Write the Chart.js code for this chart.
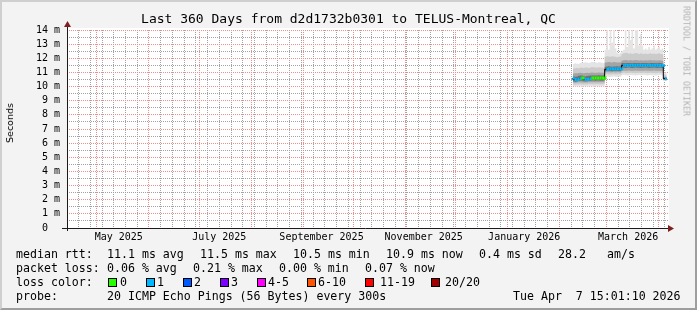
<!DOCTYPE html>
<html>
<head>
<meta charset="utf-8">
<script src="https://cdn.jsdelivr.net/npm/chart.js@4.4.1/dist/chart.umd.min.js"></script>
<style>
  html, body { margin: 0; padding: 0; background: #f3f3f3; }
  #frame { position: relative; width: 697px; height: 310px; background: #f3f3f3; overflow: hidden;
           font-family: 'DejaVu Sans Mono', monospace; color: #000; }
  #frame::after { content: ''; position: absolute; left: 0; top: 0; right: 0; bottom: 0; pointer-events: none;
                  border-style: solid; border-width: 2px; border-color: #cfcfcf #9e9e9e #9e9e9e #cfcfcf; }
  canvas { position: absolute; left: 0; top: 0; }
  .t { position: absolute; white-space: pre; font-size: 11.6px; line-height: 14px; }
  .box { position: absolute; width: 9px; height: 9px; box-sizing: border-box; border: 1px solid #000; }
  #title { position: absolute; left: 0; top: 11px; width: 697px; text-align: center; font-size: 13px; line-height: 15px; white-space: pre; }
  #ylab { position: absolute; left: 10px; top: 123px; font-family: 'DejaVu Sans', sans-serif; font-size: 9.5px; line-height: 10px;
          transform: translate(-50%, -50%) rotate(-90deg); white-space: pre; }
  #mark { position: absolute; left: 686px; top: 61px; font-size: 8.3px; line-height: 9px; color: #b4b4b4;
          transform: translate(-50%, -50%) rotate(90deg); white-space: pre; }
</style>
</head>
<body>
<div id="frame">
  <canvas id="chart" width="697" height="310"></canvas>
  <div id="title">Last 360 Days from d2d1732b0301 to TELUS-Montreal, QC</div>
  <div id="ylab">Seconds</div>
  <div id="mark">RRDTOOL / TOBI OETIKER</div>

  <div class="t" style="left:16px;top:247px">median rtt:</div>
  <div class="t" style="left:107px;top:247px">11.1 ms avg</div>
  <div class="t" style="left:200px;top:247px">11.5 ms max</div>
  <div class="t" style="left:293px;top:247px">10.5 ms min</div>
  <div class="t" style="left:386px;top:247px">10.9 ms now</div>
  <div class="t" style="left:479px;top:247px">0.4 ms sd</div>
  <div class="t" style="left:558px;top:247px">28.2</div>
  <div class="t" style="left:607px;top:247px">am/s</div>

  <div class="t" style="left:16px;top:261px">packet loss:</div>
  <div class="t" style="left:107px;top:261px">0.06 % avg</div>
  <div class="t" style="left:193px;top:261px">0.21 % max</div>
  <div class="t" style="left:279px;top:261px">0.00 % min</div>
  <div class="t" style="left:365px;top:261px">0.07 % now</div>

  <div class="t" style="left:16px;top:275px">loss color:</div>
  <div class="box" style="left:108px;top:278px;background:#26ff00"></div><div class="t" style="left:120px;top:275px">0</div>
  <div class="box" style="left:146px;top:278px;background:#00b8ff"></div><div class="t" style="left:157px;top:275px">1</div>
  <div class="box" style="left:183px;top:278px;background:#0059ff"></div><div class="t" style="left:194px;top:275px">2</div>
  <div class="box" style="left:220px;top:278px;background:#7e00ff"></div><div class="t" style="left:231px;top:275px">3</div>
  <div class="box" style="left:257px;top:278px;background:#ff00ff"></div><div class="t" style="left:268px;top:275px">4-5</div>
  <div class="box" style="left:307px;top:278px;background:#ff5500"></div><div class="t" style="left:318px;top:275px">6-10</div>
  <div class="box" style="left:365px;top:278px;background:#ff0000"></div><div class="t" style="left:380px;top:275px">11-19</div>
  <div class="box" style="left:431px;top:278px;background:#a10000"></div><div class="t" style="left:445px;top:275px">20/20</div>

  <div class="t" style="left:16px;top:289px">probe:</div>
  <div class="t" style="left:107px;top:289px">20 ICMP Echo Pings (56 Bytes) every 300s</div>
  <div class="t" style="left:513px;top:289px">Tue Apr  7 15:01:10 2026</div>
</div>
<script>
// x values are days counted from 2025-05-01 (local midnight)
const xMin = -17.9;
const xMax = 340.8;
const monthStartDays = [0, 31, 61, 92, 123, 153, 184, 214, 245, 276, 304, 335];
const monthLabels = ['May 2025', 'July 2025', 'September 2025', 'November 2025', 'January 2026', 'March 2026'];
const monthLabelDays = [13, 73, 134, 195, 255, 317];
const firstSunday = -11;

const yTickLabels = ['0  ', '1 m', '2 m', '3 m', '4 m', '5 m', '6 m', '7 m', '8 m', '9 m', '10 m', '11 m', '12 m', '13 m', '14 m'];

// one value per day, first day = 2026-02-09
const seriesStartDay = 284;
const median = [
  10.60, 10.50, 10.48, 10.50, 10.56, 10.60, 10.60, 10.52, 10.50, 10.52, 10.55, 10.60, 10.60, 10.61, 10.60, 10.60, 10.61, 10.60, 10.60, 10.61,
  11.22, 11.25, 11.26, 11.25, 11.24, 11.25, 11.25, 11.26, 11.25, 11.25,
  11.50, 11.50, 11.49, 11.50, 11.51, 11.50, 11.49, 11.50, 11.51, 11.50, 11.50, 11.49, 11.50, 11.50, 11.51, 11.50, 11.49, 11.50, 11.50, 11.51, 11.50, 11.49, 11.50, 11.50, 11.48,
  10.55
];
const lossCount = [
  1, 1, 1, 1, 1, 0, 0, 1, 1, 1, 1, 0, 0, 0, 0, 0, 0, 0, 0, 0,
  1, 1, 1, 1, 1, 1, 1, 1, 1, 1,
  1, 1, 1, 1, 1, 1, 1, 1, 1, 1, 1, 1, 1, 1, 1, 1, 1, 1, 1, 1, 1, 1, 1, 1, 1,
  1
];
const smokeOuterLo = [
  10.04, 10.02, 10.00, 10.00, 10.02, 10.00, 9.98, 10.00, 10.02, 10.00, 10.00, 10.02, 10.00, 9.98, 10.00, 10.02, 10.00, 10.00, 10.02, 10.00,
  10.70, 10.72, 10.70, 10.68, 10.70, 10.72, 10.70, 10.70, 10.72, 10.70,
  10.80, 10.82, 10.80, 10.78, 10.80, 10.82, 10.80, 10.80, 10.78, 10.80, 10.82, 10.80, 10.80, 10.82, 10.80, 10.78, 10.80, 10.82, 10.80, 10.80, 10.78, 10.80, 10.82, 10.80, 10.80,
  10.40
];
const smokeOuterHi = [
  11.62, 11.60, 11.65, 11.62, 11.60, 11.66, 11.70, 11.68, 11.72, 11.70, 11.66, 11.70, 11.75, 11.72, 11.70, 11.68, 11.72, 11.70, 11.68, 11.65,
  12.60, 14.00, 12.60, 14.00, 13.10, 14.00, 12.70, 12.40, 12.30, 12.40,
  12.50, 12.60, 14.00, 12.80, 14.00, 13.30, 14.00, 12.70, 14.00, 14.00, 12.90, 13.70, 12.90, 12.60, 12.70, 12.60, 12.80, 12.60, 12.70, 12.90, 12.60, 12.70, 12.80, 12.60, 12.70,
  11.00
];
const smokeWideLo = [
  10.16, 10.14, 10.12, 10.14, 10.15, 10.16, 10.14, 10.12, 10.14, 10.15, 10.16, 10.17, 10.16, 10.15, 10.16, 10.17, 10.16, 10.15, 10.16, 10.17,
  10.86, 10.88, 10.86, 10.85, 10.86, 10.88, 10.86, 10.86, 10.87, 10.86,
  10.96, 10.97, 10.96, 10.95, 10.96, 10.97, 10.96, 10.96, 10.95, 10.96, 10.97, 10.96, 10.96, 10.97, 10.96, 10.95, 10.96, 10.97, 10.96, 10.96, 10.95, 10.96, 10.97, 10.96, 10.96,
  10.45
];
const smokeWideHi = [
  11.30, 11.28, 11.30, 11.32, 11.30, 11.33, 11.35, 11.32, 11.35, 11.34, 11.32, 11.35, 11.38, 11.36, 11.35, 11.34, 11.36, 11.35, 11.34, 11.32,
  12.10, 12.15, 12.12, 12.10, 12.14, 12.12, 12.10, 12.08, 12.10, 12.12,
  12.30, 12.35, 12.40, 12.38, 12.32, 12.36, 12.30, 12.34, 12.38, 12.35, 12.30, 12.36, 12.32, 12.30, 12.34, 12.30, 12.32, 12.35, 12.30, 12.33, 12.30, 12.32, 12.35, 12.30, 12.28,
  10.85
];
const smokeMidLo = [
  10.30, 10.28, 10.27, 10.28, 10.30, 10.30, 10.29, 10.28, 10.28, 10.29, 10.30, 10.31, 10.30, 10.30, 10.31, 10.30, 10.31, 10.30, 10.30, 10.31,
  11.00, 11.02, 11.01, 11.00, 11.01, 11.02, 11.00, 11.01, 11.02, 11.00,
  11.12, 11.12, 11.11, 11.12, 11.13, 11.12, 11.11, 11.12, 11.13, 11.12, 11.12, 11.11, 11.12, 11.12, 11.13, 11.12, 11.11, 11.12, 11.12, 11.13, 11.12, 11.11, 11.12, 11.12, 11.10,
  10.50
];
const smokeMidHi = [
  10.95, 10.92, 10.94, 10.95, 10.96, 10.97, 10.96, 10.95, 10.96, 10.97, 10.96, 10.98, 10.99, 10.98, 10.97, 10.98, 10.99, 10.98, 10.97, 10.98,
  11.70, 11.72, 11.74, 11.72, 11.70, 11.73, 11.72, 11.70, 11.71, 11.72,
  11.85, 11.86, 11.88, 11.86, 11.85, 11.87, 11.85, 11.86, 11.88, 11.86, 11.85, 11.86, 11.85, 11.84, 11.86, 11.85, 11.86, 11.87, 11.85, 11.86, 11.85, 11.84, 11.86, 11.85, 11.83,
  10.70
];
const smokeCoreLo = [
  10.42, 10.36, 10.34, 10.36, 10.40, 10.42, 10.42, 10.38, 10.36, 10.38, 10.40, 10.42, 10.43, 10.43, 10.42, 10.43, 10.43, 10.42, 10.42, 10.43,
  11.08, 11.10, 11.11, 11.10, 11.09, 11.10, 11.10, 11.11, 11.10, 11.10,
  11.32, 11.33, 11.32, 11.33, 11.34, 11.33, 11.32, 11.33, 11.34, 11.33, 11.33, 11.32, 11.33, 11.33, 11.34, 11.33, 11.32, 11.33, 11.33, 11.34, 11.33, 11.32, 11.33, 11.33, 11.31,
  10.52
];
const smokeCoreHi = [
  10.78, 10.72, 10.70, 10.72, 10.76, 10.78, 10.78, 10.74, 10.72, 10.74, 10.76, 10.78, 10.79, 10.79, 10.78, 10.79, 10.80, 10.78, 10.78, 10.80,
  11.40, 11.42, 11.43, 11.42, 11.41, 11.42, 11.42, 11.43, 11.42, 11.42,
  11.66, 11.66, 11.65, 11.66, 11.67, 11.66, 11.65, 11.66, 11.67, 11.66, 11.66, 11.65, 11.66, 11.66, 11.67, 11.66, 11.65, 11.66, 11.66, 11.67, 11.66, 11.65, 11.66, 11.66, 11.64,
  10.62
];

// loss count -> colour, as in the legend
const lossColors = ['#26ff00', '#00b8ff', '#0059ff', '#7e00ff', '#ff00ff', '#ff00ff', '#ff5500'];
function lossColor(n) {
  if (n >= 20) return '#a10000';
  if (n >= 11) return '#ff0000';
  if (n >= 6) return '#ff5500';
  return lossColors[n];
}

const gridMajor = '#ee8f8f';
const gridMinor = '#a2a2a2';

// each value holds until the next day: add a closing point for the last one
function stepPoints(values) {
  const pts = values.map((v, i) => ({ x: seriesStartDay + i, y: v }));
  pts.push({ x: seriesStartDay + values.length, y: values[values.length - 1] });
  return pts;
}

// one horizontal piece per day so the loss colour can change from day to day
function medianPieces(values) {
  const pts = [];
  values.forEach((v, i) => {
    pts.push({ x: seriesStartDay + i, y: v });
    pts.push({ x: seriesStartDay + i + 1, y: v });
    pts.push({ x: seriesStartDay + i + 1, y: null });
  });
  return pts;
}

function band(hi, lo, color, order) {
  const common = { stepped: 'after', pointRadius: 0, borderWidth: 0, borderColor: 'transparent', order: order };
  return [
    Object.assign({ data: stepPoints(hi), fill: '+1', backgroundColor: color }, common),
    Object.assign({ data: stepPoints(lo), fill: false }, common)
  ];
}

// x grid: weekly (Sundays) dotted grey, month starts dotted red, labels mid-month
const xTicks = [];
for (let d = firstSunday; d <= xMax; d += 7) {
  if (!monthStartDays.includes(d)) xTicks.push({ value: d, kind: 'week' });
}
monthStartDays.forEach(d => xTicks.push({ value: d, kind: 'month' }));
monthLabelDays.forEach((d, i) => xTicks.push({ value: d, kind: 'label', text: monthLabels[i] }));
xTicks.sort((a, b) => a.value - b.value);

const yTicks = [];
for (let v = 0; v <= 14; v += 0.5) yTicks.push({ value: v });

const rrdFrame = {
  id: 'rrdFrame',
  beforeDraw(chart) {
    const { ctx, chartArea: a } = chart;
    ctx.save();
    ctx.fillStyle = '#ffffff';
    ctx.fillRect(a.left, a.top - 2, a.right - a.left + 1, a.bottom - a.top + 2);
    ctx.restore();
  },
  afterDraw(chart) {
    const { ctx, chartArea: a } = chart;
    const x0 = Math.round(a.left) + 0.5;
    const y0 = Math.round(a.bottom) + 0.5;
    ctx.save();
    ctx.strokeStyle = '#1a1a1a';
    ctx.lineWidth = 1;
    ctx.beginPath();
    ctx.moveTo(a.left - 5, y0); ctx.lineTo(a.right + 1, y0);
    ctx.moveTo(x0, a.bottom + 3); ctx.lineTo(x0, a.top - 4);
    ctx.stroke();
    ctx.fillStyle = '#7f1f1f';
    ctx.beginPath();
    ctx.moveTo(a.right, y0 - 3.5); ctx.lineTo(a.right + 6, y0); ctx.lineTo(a.right, y0 + 3.5);
    ctx.fill();
    ctx.beginPath();
    ctx.moveTo(x0 - 3.5, a.top - 3); ctx.lineTo(x0, a.top - 9); ctx.lineTo(x0 + 3.5, a.top - 3);
    ctx.fill();
    ctx.restore();
  }
};

new Chart(document.getElementById('chart'), {
  type: 'line',
  data: {
    datasets: [
      ...band(smokeOuterHi, smokeOuterLo, '#e4e4e4', 50),
      ...band(smokeWideHi, smokeWideLo, '#cbcbcb', 40),
      ...band(smokeMidHi, smokeMidLo, '#a4a4a4', 30),
      ...band(smokeCoreHi, smokeCoreLo, '#707070', 20),
      { data: stepPoints(median), stepped: 'after', borderColor: '#000000', borderWidth: 1, pointRadius: 0, fill: false, order: 10 },
      {
        data: medianPieces(median), borderWidth: 3, pointRadius: 0, fill: false, spanGaps: false, order: 5,
        borderCapStyle: 'butt',
        segment: { borderColor: ctx => lossColor(lossCount[Math.floor(ctx.p0DataIndex / 3)]) }
      }
    ]
  },
  options: {
    responsive: false,
    animation: false,
    devicePixelRatio: 1,
    events: [],
    layout: { padding: { left: 0, top: 30, right: 29, bottom: 62 } },
    plugins: { legend: { display: false }, tooltip: { enabled: false }, title: { display: false } },
    scales: {
      x: {
        type: 'linear', min: xMin, max: xMax,
        afterBuildTicks: s => { s.ticks = xTicks.map(t => Object.assign({}, t)); },
        afterFit: s => { s.height = 20; },
        ticks: {
          autoSkip: false, maxRotation: 0, padding: 3, color: '#000',
          font: { family: 'DejaVu Sans Mono', size: 10 },
          callback: (v, i, ticks) => ticks[i].text || ''
        },
        grid: {
          drawTicks: false, lineWidth: 1,
          color: ctx => ctx.tick && ctx.tick.kind === 'month' ? gridMajor : (ctx.tick && ctx.tick.kind === 'week' ? gridMinor : 'transparent')
        },
        border: { display: false, dash: [1, 1] }
      },
      y: {
        type: 'linear', min: 0, max: 14,
        afterBuildTicks: s => { s.ticks = yTicks.map(t => Object.assign({}, t)); },
        afterFit: s => { s.width = 67; },
        ticks: {
          autoSkip: false, padding: 7, color: '#000',
          font: { family: 'DejaVu Sans Mono', size: 10 },
          callback: v => (v % 1 === 0 ? yTickLabels[v] : '')
        },
        grid: {
          drawTicks: false, lineWidth: 1,
          color: ctx => {
            const v = ctx.tick ? ctx.tick.value : 0;
            if (v === 0) return 'transparent';
            return v % 1 === 0 ? gridMajor : gridMinor;
          }
        },
        border: { display: false, dash: [1, 1] }
      }
    }
  },
  plugins: [rrdFrame]
});
</script>
</body>
</html>
